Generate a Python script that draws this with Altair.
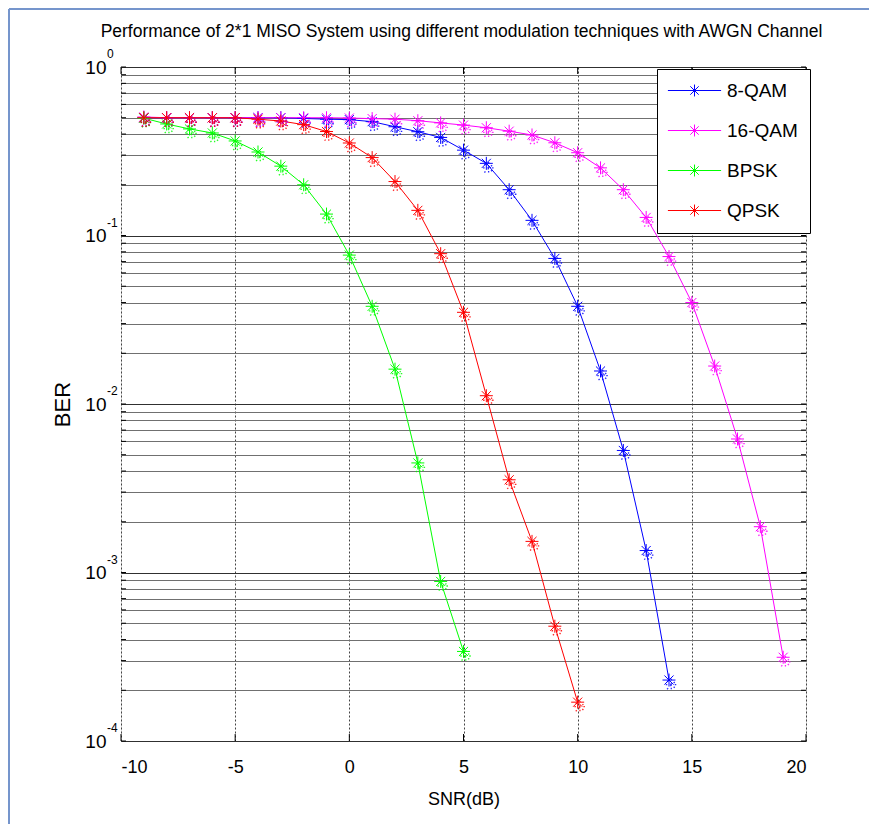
import altair as alt
import pandas as pd

# ---------------- data ----------------
series_names = ["8-QAM", "16-QAM", "BPSK", "QPSK"]
series_colors = ["#0000ff", "#ff00ff", "#00ff00", "#ff0000"]

snr_8qam = list(range(-9, 15))
ber_8qam = [0.5, 0.5, 0.5, 0.5, 0.5, 0.5, 0.5, 0.495, 0.49, 0.487, 0.474, 0.442,
            0.413, 0.382, 0.321, 0.268, 0.187, 0.123, 0.0731, 0.038, 0.0157,
            0.0053, 0.00135, 0.00023]

snr_16qam = list(range(-9, 20))
ber_16qam = [0.505, 0.5, 0.5, 0.5, 0.5, 0.5, 0.5, 0.5, 0.5, 0.498, 0.494,
             0.49, 0.48, 0.466, 0.452, 0.436, 0.416, 0.395, 0.355, 0.31, 0.252,
             0.187, 0.128, 0.075, 0.040, 0.0168, 0.0062, 0.00187, 0.000314]

snr_bpsk = list(range(-9, 6))
ber_bpsk = [0.497, 0.459, 0.429, 0.406, 0.364, 0.313, 0.258, 0.2, 0.134, 0.0765,
            0.038, 0.0161, 0.00447, 0.000885, 0.00034]

snr_qpsk = list(range(-9, 11))
ber_qpsk = [0.5, 0.5, 0.5, 0.5, 0.5, 0.49, 0.478, 0.455, 0.414, 0.354, 0.29,
            0.209, 0.141, 0.078, 0.035, 0.0112, 0.00355, 0.00153, 0.00048, 0.00017]

x_ticks = [-10, -5, 0, 5, 10, 15, 20]
y_decades = [1, 0.1, 0.01, 0.001, 0.0001]
y_exponents = ["0", "-1", "-2", "-3", "-4"]
y_grid = [m * 10.0 ** k for k in range(-4, 0) for m in range(1, 10)] + [1.0]

title_text = "Performance of 2*1 MISO System using different modulation techniques with AWGN Channel"

# ---------------- frames ----------------
rows = []
for name, xs, ys in [("8-QAM", snr_8qam, ber_8qam), ("16-QAM", snr_16qam, ber_16qam),
                     ("BPSK", snr_bpsk, ber_bpsk), ("QPSK", snr_qpsk, ber_qpsk)]:
    for i, (a, b) in enumerate(zip(xs, ys)):
        rows.append({"series": name, "snr": a, "ber": b, "order": i})
df = pd.DataFrame(rows)

W, H = 685, 674
FONT = "Liberation Sans, Arial, sans-serif"

xscale = alt.Scale(domain=[-10, 20], nice=False, zero=False)
yscale = alt.Scale(type="log", domain=[0.0001, 1], nice=False)
cscale = alt.Scale(domain=series_names, range=series_colors)

ASTER = "M0,-1L0,1M-1,0L1,0M-0.7,-0.7L0.7,0.7M-0.7,0.7L0.7,-0.7"
GHOST = "M0.35,-0.2L0.35,1.7M-0.5,0.7L1.4,0.7M-0.3,0.1L1.1,1.4M-0.3,1.4L1.1,0.1"
LEG_SYM = "M-3.8,0L3.8,0M0,-0.85L0,0.85M-0.85,0L0.85,0M-0.6,-0.6L0.6,0.6M-0.6,0.6L0.6,-0.6"

legend = alt.Legend(
    title=None, orient="none", legendX=536, legendY=2,
    symbolType=LEG_SYM, symbolSize=196, symbolStrokeWidth=1, symbolOffset=16,
    labelFont=FONT, labelFontSize=19, labelColor="black", labelOffset=23,
    rowPadding=20, padding=12, strokeColor="black", fillColor="white",
    symbolFillColor="transparent",
)

decade_test = "abs(log(datum.value)/LN10 - round(log(datum.value)/LN10)) < 0.001"

base = alt.Chart(df)

lines = base.mark_line(strokeWidth=1, clip=False).encode(
    x=alt.X("snr:Q", scale=xscale,
            axis=alt.Axis(values=x_ticks, labelExpr="'' + datum.value", grid=True,
                          gridDash=[2, 2], gridColor="#444", gridOpacity=1, tickSize=0,
                          domain=False, labelPadding=17, labelFont=FONT, labelFontSize=18,
                          labelColor="black", title="SNR(dB)", titleFont=FONT,
                          titleFontSize=18, titleFontWeight="normal", titleColor="black",
                          titlePadding=14)),
    y=alt.Y("ber:Q", scale=yscale,
            axis=alt.Axis(values=y_grid, labelExpr=f"{decade_test} ? '10' : ''",
                          grid=True,
                          gridColor={"condition": {"test": decade_test, "value": "#303030"},
                                     "value": "#707070"},
                          gridOpacity=1, tickSize=0, domain=False, labelOverlap=False,
                          labelBound=False, labelFlush=False,
                          labelPadding=15, labelFont=FONT, labelFontSize=19,
                          labelColor="black", title="BER", titleFont=FONT,
                          titleFontSize=22, titleFontWeight="normal", titleColor="black",
                          titlePadding=10)),
    color=alt.Color("series:N", scale=cscale, legend=legend),
    order="order:Q",
)

points = base.mark_point(shape=ASTER, size=169, filled=False, strokeWidth=1,
                         opacity=1, clip=False).encode(
    x=alt.X("snr:Q", scale=xscale),
    y=alt.Y("ber:Q", scale=yscale),
    color=alt.Color("series:N", scale=cscale, legend=legend),
)

ghosts = base.mark_point(shape=GHOST, size=169, filled=False, strokeWidth=1.3,
                         strokeDash=[1.5, 3], opacity=0.85, clip=False).encode(
    x=alt.X("snr:Q", scale=xscale),
    y=alt.Y("ber:Q", scale=yscale),
    color=alt.Color("series:N", scale=cscale, legend=None),
)

# inward ticks
ytick_df = pd.DataFrame({"v": y_grid})
yt_left = alt.Chart(ytick_df).mark_rule(color="black", strokeWidth=1).encode(
    y=alt.Y("v:Q", scale=yscale), x=alt.value(0), x2=alt.value(5))
yt_right = alt.Chart(ytick_df).mark_rule(color="black", strokeWidth=1).encode(
    y=alt.Y("v:Q", scale=yscale), x=alt.value(W - 5), x2=alt.value(W))
xtick_df = pd.DataFrame({"v": x_ticks})
xt_bottom = alt.Chart(xtick_df).mark_rule(color="black", strokeWidth=1).encode(
    x=alt.X("v:Q", scale=xscale), y=alt.value(H - 7), y2=alt.value(H))
xt_top = alt.Chart(xtick_df).mark_rule(color="black", strokeWidth=1).encode(
    x=alt.X("v:Q", scale=xscale), y=alt.value(0), y2=alt.value(7))

# exponents of the y labels
exp_df = pd.DataFrame({"v": y_decades, "e": y_exponents})
exps = alt.Chart(exp_df).mark_text(align="left", baseline="middle", dy=-13,
                                   font=FONT, fontSize=12, color="black").encode(
    y=alt.Y("v:Q", scale=yscale), x=alt.value(-14), text="e:N")

one = pd.DataFrame({"t": [title_text]})
title = alt.Chart(one).mark_text(align="center", baseline="alphabetic", font=FONT,
                                 fontSize=17.5, color="black").encode(
    x=alt.value(W / 2 - 2), y=alt.value(-30), text="t:N")

# outer frame (top and left border of the figure)
frame_top = alt.Chart(one).mark_rule(color="#7595cc", strokeWidth=2).encode(
    x=alt.value(-112), x2=alt.value(W + 63), y=alt.value(-58))
frame_left = alt.Chart(one).mark_rule(color="#7595cc", strokeWidth=2).encode(
    y=alt.value(-58), y2=alt.value(H + 83), x=alt.value(-112))

chart = alt.layer(
    lines, ghosts, points, yt_left, yt_right, xt_bottom, xt_top, exps, title,
    frame_top, frame_left
).properties(
    width=W, height=H,
    autosize=alt.AutoSizeParams(type="none"),
    padding={"left": 113, "top": 59, "right": 63, "bottom": 83},
).configure_view(
    stroke="black", strokeWidth=1
).configure(background="white")

chart.save("out.html", embed_options={"renderer": "svg", "actions": False})
